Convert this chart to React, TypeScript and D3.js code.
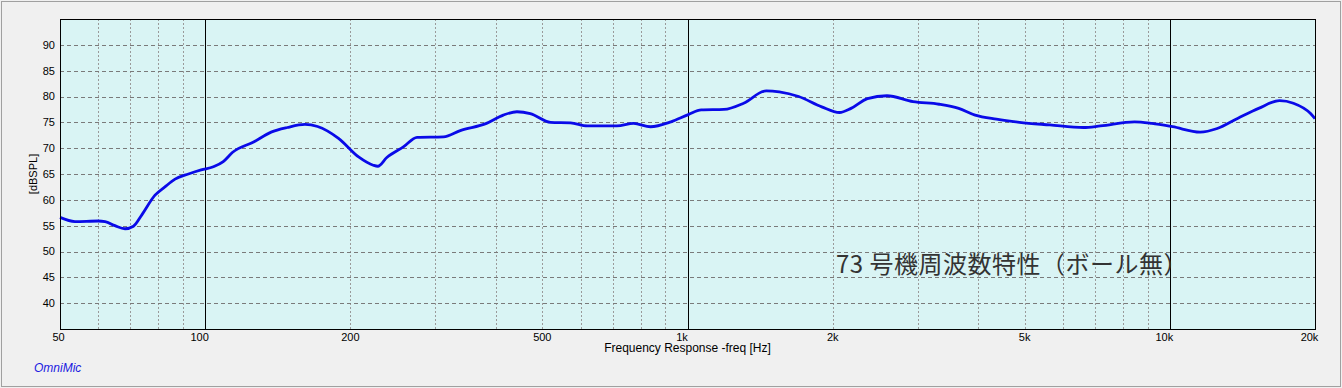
import React from "react";
import * as d3 from "d3";

const freqs = [50, 53.7, 60, 62, 65, 68.2, 71, 73.9, 78.7, 82.5, 86.6, 92.3, 98.1, 104, 109, 114, 126, 137, 148, 161, 171, 189, 208, 223, 228, 238, 258, 275, 312, 338, 383, 415, 443, 472, 520, 572, 620, 714, 773, 838, 924, 1004, 1068, 1190, 1307, 1457, 1550, 1700, 1898, 2066, 2183, 2361, 2591, 2935, 3325, 3650, 3948, 4370, 4880, 5640, 6620, 7180, 8450, 9180, 10130, 11560, 12540, 13850, 15280, 16890, 18040, 19580, 20000];
const spl = [56.6, 55.8, 55.9, 55.8, 55.0, 54.4, 54.9, 57.1, 60.9, 62.5, 64.0, 65.0, 65.8, 66.4, 67.4, 69.2, 71.2, 73.1, 74.0, 74.6, 74.2, 71.9, 68.3, 66.7, 66.5, 68.2, 70.3, 72.1, 72.2, 73.4, 74.8, 76.4, 77.05, 76.7, 75.0, 74.9, 74.3, 74.3, 74.8, 74.15, 75.1, 76.5, 77.4, 77.5, 78.7, 81.1, 80.9, 80.0, 78.0, 76.9, 77.7, 79.6, 80.15, 79.0, 78.5, 77.7, 76.4, 75.6, 75.0, 74.5, 74.0, 74.3, 75.1, 74.8, 74.15, 73.1, 73.8, 75.8, 77.7, 79.2, 78.7, 76.7, 75.7];

const yTicks = [40, 45, 50, 55, 60, 65, 70, 75, 80, 85, 90];
const xTickValues = [50, 100, 200, 500, 1000, 2000, 5000, 10000, 20000];
const xTickLabels = ["50", "100", "200", "500", "1k", "2k", "5k", "10k", "20k"];
const majorLines = [100, 1000, 10000];
const minorLines = [60, 70, 80, 90, 200, 300, 400, 500, 600, 700, 800, 900, 2000, 3000, 4000, 5000, 6000, 7000, 8000, 9000];

const titleText = "73 号機周波数特性（ボール無）";

export default function App() {
  const W = 1342, H = 388;
  const left = 60, right = 1315, top = 19, bottom = 329;
  const x = d3.scaleLog().domain([50, 20000]).range([left, right]);
  const y = d3.scaleLinear().domain([35, 95]).range([bottom, top]);
  const pts = freqs.map((f, i) => [f, spl[i]] as [number, number]);
  const line = d3.line<[number, number]>()
    .x(d => x(d[0]))
    .y(d => y(d[1]))
    .curve(d3.curveMonotoneX);
  const labelDx = (v: number) => (v === 50 ? -1.5 : [100, 1000, 10000, 20000].includes(v) ? -5.5 : 0);
  const tickFont = "'Liberation Sans', Arial, sans-serif";
  return (
    <svg width={W} height={H} style={{ position: "absolute", left: 0, top: 0 }}>
      <rect x={0} y={0} width={W} height={H} fill="#f0f0f0" />
      <rect x={1.5} y={1.5} width={1339} height={385} fill="none" stroke="#a0a0a0" strokeWidth={1} />
      <rect x={left} y={top} width={right - left} height={bottom - top} fill="#d9f4f4" />
      {minorLines.map(v => (
        <line key={"m" + v} x1={Math.round(x(v)) + 0.5} x2={Math.round(x(v)) + 0.5} y1={top} y2={bottom}
          stroke="#9a9a9a" strokeWidth={1} strokeDasharray="2,2" />
      ))}
      {yTicks.map(v => (
        <line key={"h" + v} x1={left} x2={right} y1={Math.round(y(v)) + 0.5} y2={Math.round(y(v)) + 0.5}
          stroke="#7a7a7a" strokeWidth={1} strokeDasharray="4,3" />
      ))}
      {majorLines.map(v => (
        <line key={"M" + v} x1={Math.round(x(v)) + 0.5} x2={Math.round(x(v)) + 0.5} y1={top} y2={bottom}
          stroke="#000" strokeWidth={1} />
      ))}
      <path d={line(pts) || ""} fill="none" stroke="#0a0ae8" strokeWidth={2.8} strokeLinejoin="round" />
      <rect x={left + 0.5} y={top + 0.5} width={right - left} height={bottom - top} fill="none" stroke="#000" strokeWidth={1} />
      {yTicks.map(v => (
        <text key={"yt" + v} x={55} y={y(v)} dy="0.35em" textAnchor="end" fontFamily={tickFont} fontSize={11} fill="#000">{v}</text>
      ))}
      {xTickValues.map((v, i) => (
        <text key={"xt" + v} x={x(v) + labelDx(v)} y={341} textAnchor="middle" fontFamily={tickFont} fontSize={11} fill="#000">{xTickLabels[i]}</text>
      ))}
      <text x={(left + right) / 2} y={352} textAnchor="middle" fontFamily={tickFont} fontSize={12} fill="#000">Frequency Response -freq [Hz]</text>
      <text transform={`translate(37,${(top + bottom) / 2}) rotate(-90)`} textAnchor="middle" fontFamily={tickFont} fontSize={11} fill="#000">[dBSPL]</text>
      <text x={34} y={372} fontFamily={tickFont} fontSize={12} fontStyle="italic" fill="#1a1ae0">OmniMic</text>
      <text x={836} y={273} fontFamily="'Noto Sans CJK JP', sans-serif" fontSize={24} letterSpacing={0.5} fill="#333">{titleText}</text>
    </svg>
  );
}
